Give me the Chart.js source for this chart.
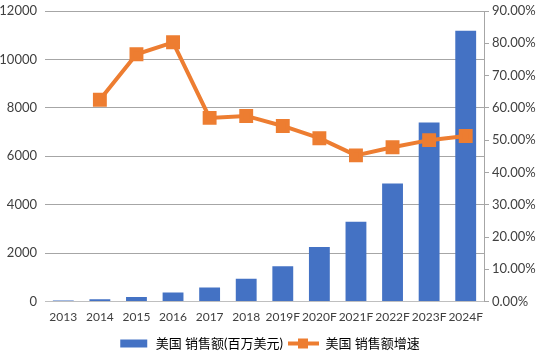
<!DOCTYPE html>
<html><head><meta charset="utf-8">
<script src="https://cdn.jsdelivr.net/npm/chart.js@4"></script>
<style>html,body{margin:0;padding:0;background:#fff}#wrap{width:538px;height:360px}</style>
</head><body><div id="wrap"><canvas id="c" width="538" height="360"></canvas></div>
<script>
const categories = ['2013','2014','2015','2016','2017','2018','2019F','2020F','2021F','2022F','2023F','2024F'];
const salesValues = [42, 97, 195, 375, 585, 945, 1460, 2250, 3300, 4880, 7400, 11180];
const growthValues = [null, 0.625, 0.766, 0.803, 0.569, 0.575, 0.544, 0.506, 0.453, 0.478, 0.500, 0.513];
const salesLabel = '美国 销售额(百万美元)';
const growthLabel = '美国 销售额增速';

const FONT = "Lato, 'Noto Sans CJK SC', sans-serif";
Chart.defaults.font.family = FONT;
Chart.defaults.font.size = 13;
Chart.defaults.color = '#404040';

function makeIcon(kind) {
  const c = document.createElement('canvas');
  c.width = 31; c.height = 12;
  const g = c.getContext('2d');
  if (kind === 'bar') {
    g.fillStyle = '#4472C4'; g.fillRect(2, 2, 27, 8);
  } else {
    g.strokeStyle = '#ED7D31'; g.lineWidth = 4;
    g.beginPath(); g.moveTo(0, 6); g.lineTo(31, 6); g.stroke();
    g.fillStyle = '#ED7D31'; g.fillRect(10, 1, 10, 10);
  }
  return c;
}
const barIcon = makeIcon('bar');
const lineIcon = makeIcon('line');

function tightY(s) { s.paddingTop = 2; s.paddingBottom = 2; }

new Chart(document.getElementById('c'), {
  data: {
    labels: categories,
    datasets: [
      { type: 'line', label: growthLabel, data: growthValues, yAxisID: 'y1',
        borderColor: '#ED7D31', backgroundColor: '#ED7D31', borderWidth: 4,
        pointStyle: 'rect', pointRadius: 7, pointHoverRadius: 7, tension: 0, order: 0 },
      { type: 'bar', label: salesLabel, data: salesValues, yAxisID: 'y',
        backgroundColor: '#4472C4', categoryPercentage: 1, barPercentage: 0.57, order: 1 }
    ]
  },
  options: {
    responsive: false, animation: false,
    layout: { padding: { top: 5, left: 0, right: 0, bottom: 0 } },
    plugins: {
      tooltip: { enabled: false },
      legend: { position: 'bottom',
        labels: { color: '#404040', font: { size: 13, family: FONT }, usePointStyle: true, pointStyleWidth: 31, boxHeight: 12, padding: 5,
          generateLabels(chart) {
            return [
              { text: salesLabel, pointStyle: barIcon, fillStyle: '#4472C4', strokeStyle: '#4472C4', lineWidth: 0, datasetIndex: 1 },
              { text: growthLabel, pointStyle: lineIcon, fillStyle: '#ED7D31', strokeStyle: '#ED7D31', lineWidth: 0, datasetIndex: 0 }
            ];
          } } }
    },
    scales: {
      x: { grid: { display: false }, border: { color: '#bfbfbf' },
        ticks: { color: '#404040', padding: 0, maxRotation: 0, autoSkip: false, font: { family: FONT, size: 12 } },
        afterFit(s) { s.height = s.height + 8; } },
      y: { position: 'left', min: 0, max: 12000,
        ticks: { stepSize: 2000, color: '#404040', padding: 8, callback: v => String(v) },
        grid: { color: '#a6a6a6', drawTicks: false }, border: { display: false },
        afterFit(s) { s.width = 45; tightY(s); } },
      y1: { position: 'right', min: 0, max: 0.9,
        ticks: { stepSize: 0.1, color: '#404040', padding: 3, callback: v => (v*100).toFixed(2) + '%' },
        grid: { drawOnChartArea: false, color: '#a6a6a6', tickLength: 5 }, border: { display: true, color: '#a6a6a6' },
        afterFit(s) { s.width = 54; tightY(s); } }
    }
  }
});
</script></body></html>
